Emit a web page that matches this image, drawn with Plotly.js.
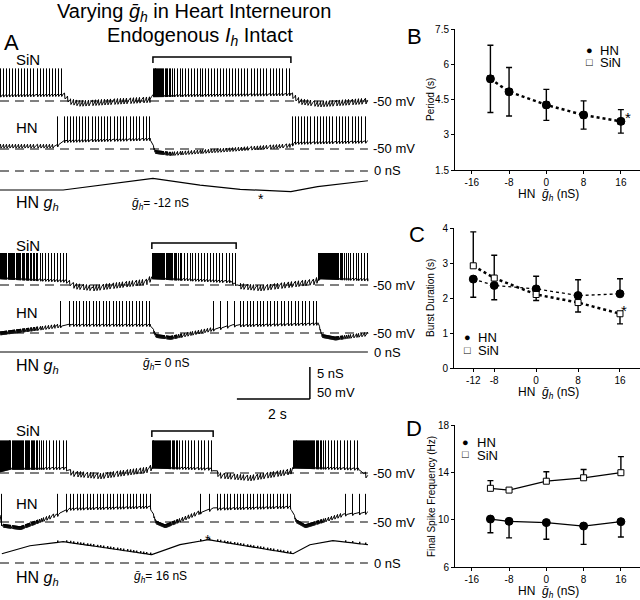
<!DOCTYPE html>
<html><head><meta charset="utf-8">
<script src="https://cdn.plot.ly/plotly-3.0.1.min.js"></script>
<style>html,body{margin:0;padding:0;background:#fff}#chart{width:640px;height:600px}</style>
</head><body><div id="chart"></div>
<script>
// ================= Panels B-D (summary data) =================
const ghBar = [-12, -8, 0, 8, 16];
const xTicksBD = [-16, -8, 0, 8, 16];
const xTickTextBD = ['-16', '-8', '0', '8', '16'];
const xTicksC = [-12, -8, 0, 8, 16];
const xTickTextC = ['-12', '-8', '0', '8', '16'];
const yTicksB = [1.5, 3, 4.5, 6, 7.5];
const yTicksC = [0, 1, 2, 3, 4];
const yTicksD = [6, 10, 14, 18];

const periodHN = [5.38, 4.83, 4.27, 3.84, 3.57];
const periodHNerr = [1.43, 1.03, 0.66, 0.60, 0.50];
const periodSiN = [5.38, 4.83, 4.27, 3.84, 3.57];

const burstHN = [2.54, 2.36, 2.26, 2.07, 2.12];
const burstHNerrPlus = [0, 0, 0.36, 0.45, 0.43];
const burstHNerrMinus = [0.52, 0.41, 0, 0, 0];
const burstSiN = [2.92, 2.57, 2.10, 1.87, 1.55];
const burstSiNerrPlus = [0.97, 0.65, 0, 0, 0];
const burstSiNerrMinus = [0, 0, 0.17, 0.27, 0.29];

const freqHN = [10.05, 9.86, 9.75, 9.46, 9.83];
const freqHNerrMinus = [1.15, 1.40, 1.40, 1.55, 1.30];
const freqSiN = [12.65, 12.50, 13.25, 13.54, 13.97];
const freqSiNerrPlus = [0.65, 0.15, 0.80, 0.70, 1.36];

// ================= Panel A (voltage / conductance traces) =================
// time in s, membrane potential in mV, conductance in nS
// bursts: [start, end, freq-profile times (s from start), freq-profile values (Hz)]
const T_END = 10.08;

// gh_bar = -12 nS
const p1SiNEnvT = [0, 1.73, 1.92, 2.19, 4.11, 4.19, 7.95, 8.22, 8.77, 10.08];
const p1SiNEnvV = [-40, -39, -50, -53, -47, -40, -38, -50, -54, -49];
const p1SiNBursts = [[0, 1.73, [0, 1.73], [12, 12]],
                     [4.19, 7.97, [0, 0.3, 0.6, 3.78], [45, 30, 13, 11]]];
const p1HNEnvT = [0, 1.51, 1.78, 4.11, 4.25, 4.66, 7.95, 8.08, 10.08];
const p1HNEnvV = [-45, -45, -36, -33, -54, -57, -44, -39, -37];
const p1HNBursts = [[1.55, 4.16, [0, 0.2, 2.61], [5, 12, 11]],
                    [8.0, 10.08, [0, 2.08], [12, 11]]];
const p1GhT = [0, 1.73, 4.19, 5.48, 6.58, 7.97, 8.7, 10.08];
const p1GhV = [-2.97, -2.97, -1.14, -2.2, -2.86, -3.23, -2.45, -1.52];

// gh_bar = 0 nS
const p2SiNEnvT = [0, 1.78, 2.05, 2.55, 4.03, 4.16, 6.30, 6.58, 7.12, 8.63, 8.77, 10.08];
const p2SiNEnvV = [-37, -42, -51, -54, -44, -37, -43, -51, -54, -44, -37, -40];
const p2SiNBursts = [[0, 1.86, [0, 0.9, 1.1, 1.86], [35, 25, 13, 11]],
                     [4.16, 6.47, [0, 0.6, 0.85, 2.31], [45, 28, 13, 11]],
                     [8.71, 10.08, [0, 0.6, 0.85, 1.37], [45, 28, 13, 12]]];
const p2HNEnvT = [0, 1.51, 1.92, 4.11, 4.27, 4.66, 6.38, 8.71, 8.82, 9.18, 10.08];
const p2HNEnvV = [-50, -39, -36, -36, -54, -57, -37, -34, -54, -58, -51];
const p2HNBursts = [[1.64, 4.16, [0, 0.3, 2.52], [4, 11, 11]],
                    [5.84, 8.71, [0, 0.6, 0.7, 2.87], [5, 6, 11, 10]]];
const p2GhT = [0, 10.08];
const p2GhV = [0, 0];

// gh_bar = 16 nS
const p3SiNEnvT = [0, 0.27, 1.78, 1.97, 2.74, 4.05, 4.19, 5.75, 6.03, 6.85, 7.95, 8.05, 9.81, 9.97, 10.08];
const p3SiNEnvV = [-45, -41, -41, -50, -54, -44, -39, -42, -53, -57, -47, -39, -42, -51, -54];
const p3SiNBursts = [[0, 1.84, [0, 0.9, 1.2, 1.84], [40, 28, 12, 10]],
                     [4.16, 5.84, [0, 0.55, 0.8, 1.68], [45, 28, 12, 10]],
                     [8.03, 9.86, [0, 0.65, 0.9, 1.83], [45, 28, 12, 10]]];
const p3HNEnvT = [0, 0.05, 0.55, 1.64, 1.92, 4.11, 4.27, 4.52, 5.48, 5.84, 7.95, 8.11, 8.36, 9.45, 10.08];
const p3HNEnvV = [-39, -55, -59, -36, -28, -25, -50, -56, -34, -28, -25, -48, -56, -37, -34];
const p3HNBursts = [[0.03, 0.05, [0], [20]],
                    [1.56, 4.16, [0, 0.35, 2.6], [4, 11, 11]],
                    [5.48, 8.03, [0, 0.36, 0.45, 2.55], [4, 5, 11, 11]],
                    [9.45, 10.08, [0, 0.63], [5, 7]]];
const p3GhT = [0.05, 0.82, 1.73, 2.74, 4.16, 4.93, 5.70, 6.85, 8.03, 8.49, 9.12, 10.08];
const p3GhV = [1.45, 2.7, 3.33, 2.5, 1.3, 2.86, 3.64, 2.56, 1.45, 2.86, 3.48, 2.86];

// ================= helpers =================
const FONT = 'Liberation Sans, Arial, Helvetica, sans-serif';
const MV_PER_PX = 1.5625;   // 50 mV scale bar = 32 px
const NS_TO_MV = 10;        // 5 nS drawn as tall as 50 mV
const PX_PER_S = 36.5;      // 2 s scale bar = 73 px
const W = 640, H = 600;

function lin(ts, vs, t) {
  if (t <= ts[0]) return vs[0];
  for (let i = 1; i < ts.length; i++) {
    if (t <= ts[i]) { const f = (t - ts[i-1]) / (ts[i] - ts[i-1]); return vs[i-1] + f * (vs[i] - vs[i-1]); }
  }
  return vs[vs.length - 1];
}
// spike times, quantised to the display resolution (one sample per screen pixel)
function spikeTimes(bursts) {
  const out = [];
  bursts.forEach(([s, e, ft, fv]) => {
    let t = s;
    while (t <= e + 1e-9) { out.push((Math.round(t * PX_PER_S) + 0.5) / PX_PER_S); t += 1 / lin(ft, fv, t - s); }
  });
  return out;
}
// slow membrane potential with after-hyperpolarisations and IPSP ripples
function vmPoints(envT, envV, bursts, own, partnerSpikes, ripple) {
  const quiet = t => !bursts.some(b => t >= b[0] - 0.03 && t <= b[1] + 0.03);
  const base = t => lin(envT, envV, t);
  const pts = envT.map((t, i) => [t, envV[i]]);
  own.forEach(t => { pts.push([t, base(t)], [t + 0.006, base(t) - 4], [t + 0.03, base(t + 0.03) - 1.5]); });
  const ps = partnerSpikes.filter(quiet);
  ps.forEach((t, i) => {
    pts.push([t, base(t) + ripple * 0.4], [t + 0.012, base(t) - ripple * 0.6]);
    const nx = i + 1 < ps.length ? ps[i + 1] : Infinity;
    if (nx - t > 0.07) pts.push([t + 0.06, base(t + 0.06)]);
  });
  pts.sort((a, b) => a[0] - b[0]);
  return pts.filter(p => p[0] >= 0 && p[0] <= T_END);
}
function ghPoints(t, g, ticks, amp) {
  const pts = t.map((tt, i) => [tt, g[i]]);
  ticks.forEach(tt => { if (tt < t[0] || tt > t[t.length-1]) return; const b = lin(t, g, tt); pts.push([tt, b], [tt + 0.006, b + amp], [tt + 0.014, b]); });
  pts.sort((a, b) => a[0] - b[0]);
  return pts;
}
const vOff = refPx => 50 - refPx * MV_PER_PX;     // -50 mV drawn at refPx
const gOff = refPx => -refPx * MV_PER_PX;         // 0 nS drawn at refPx
const pxY = px => -px * MV_PER_PX;

const traces = [];
function addLine(pts, off, scale, width) {
  traces.push({type: 'scatter', mode: 'lines', x: pts.map(p => p[0]), y: pts.map(p => p[1] * scale + off),
    xaxis: 'x', yaxis: 'y', line: {color: '#000', width: width || 1, simplify: false}, hoverinfo: 'skip', showlegend: false});
}
function addSpikes(times, envT, envV, peak, off) {
  const x = [], y = [];
  times.forEach(t => { if (t < 0 || t > T_END) return; x.push(t, t, null); y.push(lin(envT, envV, t) - 3 + off, peak + off, null); });
  traces.push({type: 'scatter', mode: 'lines', x, y, xaxis: 'x', yaxis: 'y', connectgaps: false,
    line: {color: '#000', width: 1, simplify: false}, hoverinfo: 'skip', showlegend: false});
}
function addRef(refPx, dashed) {
  traces.push({type: 'scatter', mode: 'lines', x: [0, T_END], y: [pxY(refPx), pxY(refPx)], xaxis: 'x', yaxis: 'y',
    line: {color: '#000', width: 1, dash: dashed ? '9px,6px' : 'solid'}, hoverinfo: 'skip', showlegend: false});
}

const rows = [
  {sinT: p1SiNEnvT, sinV: p1SiNEnvV, sinB: p1SiNBursts, hnT: p1HNEnvT, hnV: p1HNEnvV, hnB: p1HNBursts,
   gT: p1GhT, gV: p1GhV, sinRef: 101, hnRef: 149, gRef: 171, sinPeak: 1, hnPeak: 1, tickAmp: 0, gDashed: true},
  {sinT: p2SiNEnvT, sinV: p2SiNEnvV, sinB: p2SiNBursts, hnT: p2HNEnvT, hnV: p2HNEnvV, hnB: p2HNBursts,
   gT: p2GhT, gV: p2GhV, sinRef: 285, hnRef: 333, gRef: 352, sinPeak: 0, hnPeak: 0, tickAmp: 0, gDashed: false},
  {sinT: p3SiNEnvT, sinV: p3SiNEnvV, sinB: p3SiNBursts, hnT: p3HNEnvT, hnV: p3HNEnvV, hnB: p3HNBursts,
   gT: p3GhT, gV: p3GhV, sinRef: 473, hnRef: 522, gRef: 563, sinPeak: 1, hnPeak: -6, tickAmp: 0.3, gDashed: true}
];
const bracketPx = [57, 243, 431];
const shapes = [];
rows.forEach((r, i) => {
  const sinSp = spikeTimes(r.sinB), hnSp = spikeTimes(r.hnB);
  addRef(r.sinRef, true); addRef(r.hnRef, true);
  if (r.gDashed) addRef(r.gRef, true);
  addLine(vmPoints(r.sinT, r.sinV, r.sinB, sinSp, hnSp, 9), vOff(r.sinRef), 1);
  addSpikes(sinSp, r.sinT, r.sinV, r.sinPeak, vOff(r.sinRef));
  addLine(vmPoints(r.hnT, r.hnV, r.hnB, hnSp, sinSp, 6), vOff(r.hnRef), 1);
  addSpikes(hnSp, r.hnT, r.hnV, r.hnPeak, vOff(r.hnRef));
  addLine(ghPoints(r.gT, r.gV, r.tickAmp ? hnSp : [], r.tickAmp), gOff(r.gRef), NS_TO_MV, r.gDashed ? 1.2 : 1);
  // bracket over second SiN burst
  const b = r.sinB[1];
  const yb = pxY(bracketPx[i]), yt = pxY(bracketPx[i] + 6);
  shapes.push({type: 'path', xref: 'x', yref: 'y', path: `M${b[0]},${yt} L${b[0]},${yb} L${b[1]},${yb} L${b[1]},${yt}`,
    line: {color: '#000', width: 1.5}});
});
// scale bar: 2 s, 50 mV / 5 nS
const sbT0 = 6.49, sbY = pxY(399);
shapes.push({type: 'line', xref: 'x', yref: 'y', x0: sbT0, x1: sbT0 + 2, y0: sbY, y1: sbY, line: {color: '#000', width: 1.5}});
shapes.push({type: 'line', xref: 'x', yref: 'y', x0: sbT0 + 2, x1: sbT0 + 2, y0: sbY, y1: sbY + 50, line: {color: '#000', width: 1.5}});

// ---- summary panels ----
const mk = (sym, fill) => ({symbol: sym, size: sym === 'circle' ? 8 : 6, color: fill, line: {color: '#000', width: 1}});
function errs(plus, minus) { return {type: 'data', symmetric: false, array: plus, arrayminus: minus, color: '#000', thickness: 1.4, width: 3}; }
// B
traces.push({type: 'scatter', mode: 'lines+markers', x: ghBar, y: periodSiN, xaxis: 'x2', yaxis: 'y2',
  line: {color: '#000', width: 2.5, dash: 'dot'}, marker: mk('square', '#000'), hoverinfo: 'skip', showlegend: false});
traces.push({type: 'scatter', mode: 'markers', x: ghBar, y: periodHN, xaxis: 'x2', yaxis: 'y2',
  marker: mk('circle', '#000'), error_y: {type: 'data', array: periodHNerr, color: '#000', thickness: 1.4, width: 3},
  hoverinfo: 'skip', showlegend: false});
// C
traces.push({type: 'scatter', mode: 'lines+markers', x: ghBar, y: burstHN, xaxis: 'x3', yaxis: 'y3',
  line: {color: '#000', width: 1.3, dash: 'dot'}, marker: mk('circle', '#000'), error_y: errs(burstHNerrPlus, burstHNerrMinus),
  hoverinfo: 'skip', showlegend: false});
traces.push({type: 'scatter', mode: 'lines+markers', x: ghBar, y: burstSiN, xaxis: 'x3', yaxis: 'y3',
  line: {color: '#000', width: 2.5, dash: 'dot'}, marker: mk('square', '#fff'), error_y: errs(burstSiNerrPlus, burstSiNerrMinus),
  hoverinfo: 'skip', showlegend: false});
// D
traces.push({type: 'scatter', mode: 'lines+markers', x: ghBar, y: freqHN, xaxis: 'x4', yaxis: 'y4',
  line: {color: '#000', width: 1.2}, marker: mk('circle', '#000'), error_y: errs([0,0,0,0,0], freqHNerrMinus),
  hoverinfo: 'skip', showlegend: false});
traces.push({type: 'scatter', mode: 'lines+markers', x: ghBar, y: freqSiN, xaxis: 'x4', yaxis: 'y4',
  line: {color: '#000', width: 1.2}, marker: mk('square', '#fff'), error_y: errs(freqSiNerrPlus, [0,0,0,0,0]),
  hoverinfo: 'skip', showlegend: false});

const axBase = {showline: true, linecolor: '#000', linewidth: 1, ticks: 'outside', ticklen: 3, tickcolor: '#000',
  showgrid: false, zeroline: false, tickfont: {family: FONT, size: 10, color: '#000'}, fixedrange: true};
const xa = (dom, rng, anchor, tv, tt) => Object.assign({}, axBase, {domain: dom, range: rng, anchor, tickmode: 'array', tickvals: tv, ticktext: tt});
const ya = (pxTop, pxBot, rng, anchor, tv) => Object.assign({}, axBase, {domain: [1 - pxBot / H, 1 - pxTop / H], range: rng, anchor, tickmode: 'array', tickvals: tv});

// ---- annotations ----
function ann(text, px, py, size, extra) {
  return Object.assign({text, x: px / W, y: 1 - py / H, xref: 'paper', yref: 'paper', showarrow: false,
    xanchor: 'left', yanchor: 'middle', font: {family: FONT, size: size, color: '#000'}}, extra || {});
}
const gbar = '<i>ḡ<sub>h</sub></i>';
const annotations = [
  ann('Varying ' + gbar + ' in Heart Interneuron', 194, 12, 20, {xanchor: 'center'}),
  ann('Endogenous <i>I<sub>h</sub></i> Intact', 200, 36, 20, {xanchor: 'center'}),
  ann('A', 2, 42, 22), ann('B', 405, 36, 22), ann('C', 407, 235, 22), ann('D', 404, 428, 22),
  // row 1
  ann('SiN', 14, 60, 15), ann('HN', 14, 127, 15), ann('-50 mV', 371, 101, 13), ann('-50 mV', 371, 149, 13),
  ann('0 nS', 372, 171, 13), ann('HN <i>g<sub>h</sub></i>', 14, 203, 16), ann(gbar + '= -12 nS', 130, 204, 12),
  ann('*', 261, 199, 14, {xanchor: 'center'}),
  // row 2
  ann('SiN', 14, 245, 15), ann('HN', 14, 313, 15), ann('-50 mV', 371, 285, 13), ann('-50 mV', 371, 333, 13),
  ann('0 nS', 372, 352, 13), ann('HN <i>g<sub>h</sub></i>', 14, 366, 16), ann(gbar + '= 0 nS', 141, 364, 12),
  // scale bar
  ann('5 nS', 315, 373, 13), ann('50 mV', 315, 392, 13), ann('2 s', 277, 414, 14, {xanchor: 'center'}),
  // row 3
  ann('SiN', 14, 430, 15), ann('HN', 14, 503, 15), ann('-50 mV', 371, 473, 13), ann('-50 mV', 371, 522, 13),
  ann('0 nS', 372, 563, 13), ann('HN <i>g<sub>h</sub></i>', 14, 578, 16), ann(gbar + '= 16 nS', 132, 577, 12),
  ann('*', 208, 540, 14, {xanchor: 'center'}),
  // summary axis titles
  ann('Period (s)', 431, 100, 10, {xanchor: 'center', textangle: -90}),
  ann('Burst Duration (s)', 431, 298, 10, {xanchor: 'center', textangle: -90}),
  ann('Final Spike Frequency (Hz)', 431, 497, 10, {xanchor: 'center', textangle: -90}),
  ann('HN  ' + gbar + ' (nS)', 548, 195, 12, {xanchor: 'center'}),
  ann('HN  ' + gbar + ' (nS)', 548, 393, 12, {xanchor: 'center'}),
  ann('HN  ' + gbar + ' (nS)', 548, 592, 12, {xanchor: 'center'}),
  ann('*', 628, 117, 15, {xanchor: 'center'}), ann('*', 624, 310, 15, {xanchor: 'center'}),
  // legends
  ann('●', 589, 50, 11, {xanchor: 'center'}), ann('HN', 598, 50, 13),
  ann('□', 589, 62, 11, {xanchor: 'center'}), ann('SiN', 598, 63, 13),
  ann('●', 467, 337, 11, {xanchor: 'center'}), ann('HN', 476, 337, 13),
  ann('□', 467, 350, 11, {xanchor: 'center'}), ann('SiN', 476, 350, 13),
  ann('●', 465, 442, 11, {xanchor: 'center'}), ann('HN', 475, 442, 13),
  ann('□', 465, 454, 11, {xanchor: 'center'}), ann('SiN', 475, 455, 13)
];

const layout = {
  width: W, height: H, margin: {l: 0, r: 0, t: 0, b: 0}, paper_bgcolor: '#fff', plot_bgcolor: 'rgba(0,0,0,0)',
  showlegend: false, font: {family: FONT, color: '#000'},
  xaxis: {domain: [0, 376 / W], range: [0, 376 / PX_PER_S], visible: false, fixedrange: true},
  yaxis: {domain: [0, 1], range: [-H * MV_PER_PX, 0], visible: false, fixedrange: true},
  xaxis2: xa([455 / W, 1], [-19.6, 20.1], 'y2', xTicksBD, xTickTextBD),
  yaxis2: ya(29, 170, [1.5, 7.5], 'x2', yTicksB),
  xaxis3: xa([454 / W, 1], [-15.68, 19.82], 'y3', xTicksC, xTickTextC),
  yaxis3: ya(228, 368, [0, 4], 'x3', yTicksC),
  xaxis4: xa([455 / W, 1], [-19.6, 20.1], 'y4', xTicksBD, xTickTextBD),
  yaxis4: ya(425, 567, [6, 18], 'x4', yTicksD),
  shapes, annotations
};
Plotly.newPlot('chart', traces, layout, {staticPlot: true, displayModeBar: false});
</script></body></html>
